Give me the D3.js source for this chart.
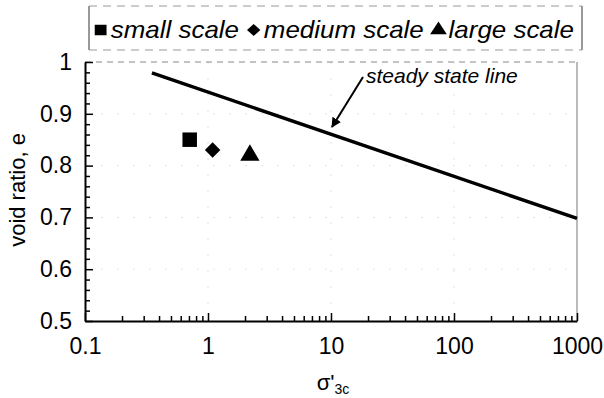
<!DOCTYPE html>
<html>
<head>
<meta charset="utf-8">
<script src="https://cdn.jsdelivr.net/npm/d3@7"></script>
<style>
  body { margin: 0; background: #fff; }
  text { font-family: "Liberation Sans", Arial, sans-serif; fill: #000; }
</style>
</head>
<body>
<div id="chart"></div>
<script>
// steady state line (stress, void ratio)
var lineStress = [0.35, 1000];
var lineVoid = [0.979, 0.698];

// test points
var seriesNames = ["small scale", "medium scale", "large scale"];
var seriesStress = [0.71, 1.09, 2.19];
var seriesVoid = [0.85, 0.83, 0.82];

var xTicks = [0.1, 1, 10, 100, 1000];
var yTicks = [0.5, 0.6, 0.7, 0.8, 0.9, 1];

var margin = { top: 62, right: 27, bottom: 77, left: 85 };
var width = 604 - margin.left - margin.right;
var height = 398 - margin.top - margin.bottom;

var svgRoot = d3.select("#chart")
    .append("svg")
    .attr("width", 604)
    .attr("height", 398);

var svg = svgRoot.append("g")
    .attr("transform", "translate(" + margin.left + "," + margin.top + ")");

var x = d3.scaleLog().domain([0.1, 1000]).range([0, width]);
var y = d3.scaleLinear().domain([0.5, 1]).range([height, 0]);

var symbolTypes = [d3.symbolSquare, d3.symbolSquare, d3.symbolTriangle];
var symbolSizes = [210, 120, 160];
var symbolRotate = [0, 45, 0];

// faint grid, mostly lost in the scan
svg.append("g")
    .selectAll("line")
    .data(yTicks.slice(1, 5))
    .enter().append("line")
    .attr("x1", 0).attr("x2", width)
    .attr("y1", d => y(d)).attr("y2", d => y(d))
    .attr("stroke", "#e4e4e4")
    .attr("stroke-dasharray", "2,14");

svg.append("g")
    .selectAll("line")
    .data(xTicks.slice(1, 4))
    .enter().append("line")
    .attr("y1", 0).attr("y2", height)
    .attr("x1", d => x(d)).attr("x2", d => x(d))
    .attr("stroke", "#e4e4e4")
    .attr("stroke-dasharray", "2,14");

// top and right border
svg.append("line")
    .attr("x1", 0).attr("x2", width).attr("y1", 0).attr("y2", 0)
    .attr("stroke", "#888").attr("stroke-dasharray", "6,5");
svg.append("line")
    .attr("x1", width).attr("x2", width).attr("y1", 0).attr("y2", height)
    .attr("stroke", "#777");

// x axis with minor log ticks pointing inward
var minorX = [];
[0.1, 1, 10, 100].forEach(function (dec) {
    for (var k = 2; k <= 9; k++) minorX.push(dec * k);
});

svg.append("g")
    .attr("transform", "translate(0," + height + ")")
    .call(d3.axisBottom(x).tickValues(minorX).tickSize(-5).tickFormat(""))
    .call(g => g.select(".domain").remove());

var xAxis = svg.append("g")
    .attr("transform", "translate(0," + height + ")")
    .call(d3.axisBottom(x).tickValues(xTicks).tickSize(-8).tickSizeOuter(0)
        .tickFormat(d3.format("~g")).tickPadding(17));
xAxis.selectAll("text").style("font-size", "23px");
xAxis.select(".domain").attr("stroke-width", 2);

// y axis with minor ticks
var minorY = d3.range(0.52, 1, 0.02).filter(v => Math.abs(v * 10 - Math.round(v * 10)) > 0.01);
svg.append("g")
    .call(d3.axisLeft(y).tickValues(minorY).tickSize(-5).tickFormat(""))
    .call(g => g.select(".domain").remove());

var yAxis = svg.append("g")
    .call(d3.axisLeft(y).tickValues(yTicks).tickSize(-8).tickSizeOuter(0)
        .tickFormat(d3.format("~g")).tickPadding(13));
yAxis.selectAll("text").style("font-size", "23px");
yAxis.select(".domain").attr("stroke-width", 2);

svg.selectAll(".tick line").attr("stroke-width", 1.5);

// steady state line
var lineData = lineStress.map((s, i) => [s, lineVoid[i]]);
svg.append("path")
    .datum(lineData)
    .attr("fill", "none")
    .attr("stroke", "#000")
    .attr("stroke-width", 3.5)
    .attr("d", d3.line().x(d => x(d[0])).y(d => y(d[1])));

// data markers
svg.selectAll(".pt")
    .data(seriesNames)
    .enter().append("path")
    .attr("class", "pt")
    .attr("d", (d, i) => d3.symbol().type(symbolTypes[i]).size(symbolSizes[i])())
    .attr("transform", (d, i) => "translate(" + x(seriesStress[i]) + "," + y(seriesVoid[i]) + ") rotate(" + symbolRotate[i] + ")")
    .attr("fill", "#000");

// annotation
svgRoot.append("defs").append("marker")
    .attr("id", "arrow")
    .attr("viewBox", "0 0 10 10")
    .attr("refX", 9).attr("refY", 5)
    .attr("markerWidth", 5).attr("markerHeight", 5)
    .attr("orient", "auto")
    .append("path").attr("d", "M0,0 L10,5 L0,10 z").attr("fill", "#000");

svgRoot.append("line")
    .attr("x1", 363).attr("y1", 77)
    .attr("x2", 332).attr("y2", 127)
    .attr("stroke", "#000").attr("stroke-width", 2)
    .attr("marker-end", "url(#arrow)");

svgRoot.append("text")
    .attr("x", 366).attr("y", 83)
    .style("font-size", "21px")
    .style("font-style", "italic")
    .text("steady state line");

// axis titles
svgRoot.append("text")
    .attr("transform", "translate(25,190) rotate(-90)")
    .style("text-anchor", "middle")
    .style("font-size", "22px")
    .text("void ratio, e");

var xt = svgRoot.append("text")
    .attr("x", 333).attr("y", 390)
    .style("text-anchor", "middle")
    .style("font-size", "22px");
xt.append("tspan").text("σ'");
xt.append("tspan").attr("dy", 4).style("font-size", "14px").text("3c");

// legend
var legend = svgRoot.append("g");
legend.append("line").attr("x1", 89).attr("x2", 89).attr("y1", 6).attr("y2", 50).attr("stroke", "#333");
legend.append("line").attr("x1", 582).attr("x2", 582).attr("y1", 6).attr("y2", 50).attr("stroke", "#333");
legend.append("line").attr("x1", 89).attr("x2", 582).attr("y1", 6).attr("y2", 6).attr("stroke", "#999").attr("stroke-dasharray", "8,6");
legend.append("line").attr("x1", 89).attr("x2", 582).attr("y1", 50).attr("y2", 50).attr("stroke", "#999").attr("stroke-dasharray", "8,6");

// lay the items out in a row, then stretch the row to the scanned width
var legendRow = legend.append("g");
var legendSymbolSizes = [110, 70, 95];
var lx = 0;
seriesNames.forEach(function (name, i) {
    legendRow.append("path")
        .attr("d", d3.symbol().type(symbolTypes[i]).size(legendSymbolSizes[i])())
        .attr("transform", "translate(" + (lx + 5) + ",30) rotate(" + symbolRotate[i] + ")")
        .attr("fill", "#000");
    var t = legendRow.append("text")
        .attr("x", lx + 14).attr("y", 38)
        .style("font-size", "23px")
        .style("font-style", "italic")
        .text(name);
    lx += 14 + t.node().getComputedTextLength() + 8;
});
var rowWidth = lx - 8;
var sx = (574 - 95) / rowWidth;
legendRow.attr("transform", "translate(95,0) scale(" + sx + ",1)");
</script>
</body>
</html>
